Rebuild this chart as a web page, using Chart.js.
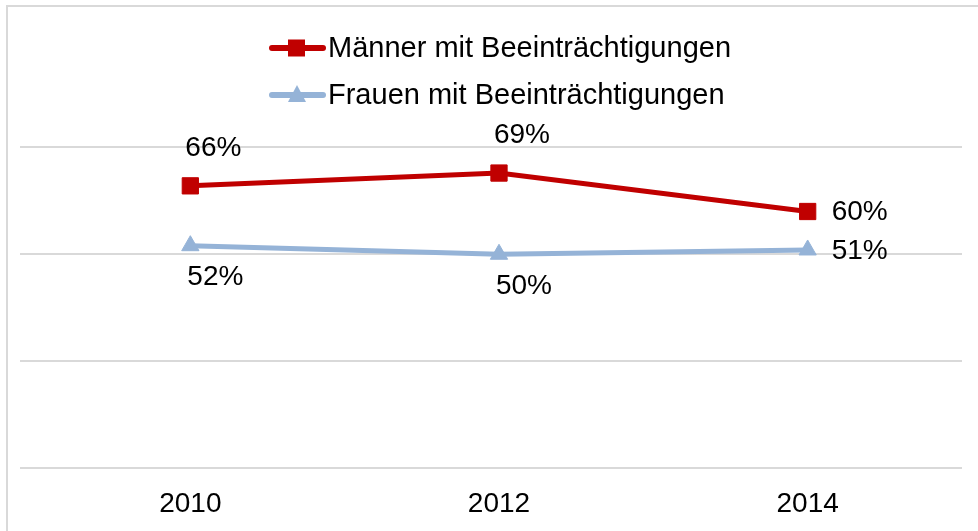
<!DOCTYPE html>
<html>
<head>
<meta charset="utf-8">
<script src="https://cdn.jsdelivr.net/npm/chart.js@4.4.1/dist/chart.umd.min.js"></script>
<style>
  html, body { margin: 0; padding: 0; background: #fff; }
  #wrap { position: relative; width: 978px; height: 531px; overflow: hidden; }
  #frame { position: absolute; left: 6px; top: 5px; width: 1000px; height: 600px; border: 2px solid #d9d9d9; box-sizing: border-box; }
  #chart { position: absolute; left: 0; top: 0; }
</style>
</head>
<body>
<div id="wrap">
  <div id="frame"></div>
  <canvas id="chart" width="978" height="531"></canvas>
</div>
<script>
// Daten
const years = ['2010', '2012', '2014'];
const maenner = [66, 69, 60];
const frauen = [52, 50, 51];
const seriesNames = ['Männer mit Beeinträchtigungen', 'Frauen mit Beeinträchtigungen'];

const RED = '#C00000';
const BLUE = '#95B3D7';
const FONT = '"Liberation Sans", Arial, sans-serif';

// Lage der Beschriftungen je Punkt
const labelPlacement = [
  ['above', 'above', 'right'],
  ['below', 'below', 'right']
];

// Prozentwerte an die Punkte schreiben
const valueLabels = {
  id: 'valueLabels',
  afterDatasetsDraw(chart) {
    const ctx = chart.ctx;
    ctx.save();
    ctx.font = '28px ' + FONT;
    ctx.fillStyle = '#000';
    ctx.textBaseline = 'middle';
    chart.data.datasets.forEach((ds, i) => {
      const meta = chart.getDatasetMeta(i);
      meta.data.forEach((pt, j) => {
        const txt = ds.data[j] + '%';
        const pos = labelPlacement[i][j];
        if (pos === 'right') {
          ctx.textAlign = 'left';
          ctx.fillText(txt, pt.x + 24, pt.y + 1);
        } else if (pos === 'above') {
          ctx.textAlign = 'center';
          ctx.fillText(txt, pt.x + 23, pt.y - 38);
        } else {
          ctx.textAlign = 'center';
          ctx.fillText(txt, pt.x + 25, pt.y + 32);
        }
      });
    });
    ctx.restore();
  }
};

// Legende untereinander, oben mittig
const stackedLegend = {
  id: 'stackedLegend',
  afterDraw(chart) {
    const ctx = chart.ctx;
    ctx.save();
    chart.data.datasets.forEach((ds, i) => {
      const y = 48 + i * 47;
      ctx.strokeStyle = ds.borderColor;
      ctx.lineWidth = 6;
      ctx.lineCap = 'round';
      ctx.beginPath();
      ctx.moveTo(272, y);
      ctx.lineTo(323, y);
      ctx.stroke();
      ctx.fillStyle = ds.borderColor;
      if (ds.pointStyle === 'rect') {
        ctx.fillRect(288, y - 8.5, 17, 17);
      } else {
        ctx.beginPath();
        ctx.moveTo(297, y - 10);
        ctx.lineTo(306, y + 7);
        ctx.lineTo(288, y + 7);
        ctx.closePath();
        ctx.fill();
      }
      ctx.fillStyle = '#000';
      ctx.font = '29px ' + FONT;
      ctx.textAlign = 'left';
      ctx.textBaseline = 'middle';
      ctx.fillText(ds.label, 328, y + 1);
    });
    ctx.restore();
  }
};

new Chart(document.getElementById('chart'), {
  type: 'line',
  data: {
    labels: years,
    datasets: [{
      label: seriesNames[0],
      data: maenner,
      borderColor: RED,
      backgroundColor: RED,
      borderWidth: 5,
      pointStyle: 'rect',
      pointRadius: 11.5,
      pointBorderWidth: 1,
      tension: 0
    }, {
      label: seriesNames[1],
      data: frauen,
      borderColor: BLUE,
      backgroundColor: BLUE,
      borderWidth: 5,
      pointStyle: 'triangle',
      pointRadius: 10,
      pointBorderWidth: 1,
      tension: 0
    }]
  },
  options: {
    responsive: false,
    animation: false,
    layout: { padding: { left: 20, right: 16, top: 126, bottom: 10 } },
    plugins: {
      legend: { display: false },
      tooltip: { enabled: false }
    },
    scales: {
      x: {
        offset: true,
        grid: { display: false, drawTicks: false },
        border: { display: false },
        ticks: { color: '#000', font: { family: FONT, size: 28 }, padding: 19 },
        afterFit(scale) {
          scale.height = 53;
        }
      },
      y: {
        min: 0,
        max: 80,
        ticks: { display: false, stepSize: 25 },
        afterBuildTicks(scale) {
          scale.ticks = scale.ticks.filter(t => t.value % 25 === 0);
        },
        grid: { color: '#d9d9d9', lineWidth: 2, drawTicks: true, tickLength: 16 },
        border: { display: false }
      }
    }
  },
  plugins: [valueLabels, stackedLegend]
});
</script>
</body>
</html>
